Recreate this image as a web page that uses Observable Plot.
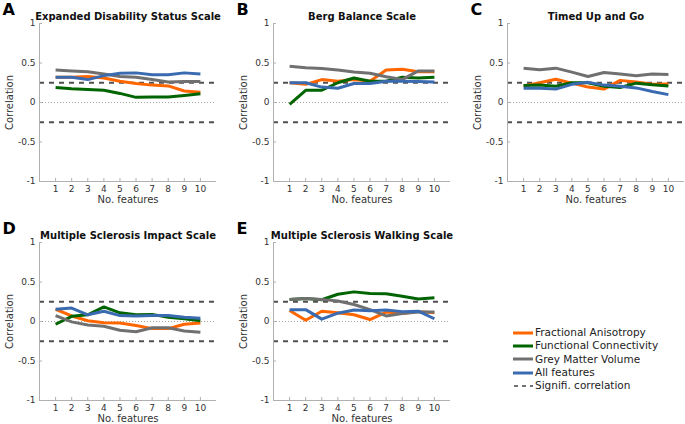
<!DOCTYPE html>
<html>
<head>
<meta charset="utf-8">
<script src="https://cdn.jsdelivr.net/npm/d3@7"></script>
<script src="https://cdn.jsdelivr.net/npm/@observablehq/plot@0.6"></script>
<style>
  html, body { margin: 0; padding: 0; background: #fff; }
  #wrap { position: relative; width: 685px; height: 424px; overflow: hidden; font-family: "DejaVu Sans", sans-serif; }
  .panel { position: absolute; width: 232px; height: 210px; }
  .panel svg { max-width: none !important; display: block; }
  #legend { position: absolute; left: 513px; top: 326px; font-size: 10.5px; color: #222; line-height: 13.3px; }
  #legend .row { display: flex; align-items: center; white-space: nowrap; }
  #legend svg { margin-right: 2px; }
</style>
</head>
<body>
<div id="wrap"></div>
<script>
// ---- data ----
const features = [1, 2, 3, 4, 5, 6, 7, 8, 9, 10];
const seriesNames = ["Fractional Anisotropy", "Functional Connectivity", "Grey Matter Volume", "All features"];
const seriesColors = ["#ff6600", "#006400", "#707070", "#3a6bb0"];
const sigLabel = "Signifi. correlation";
const sigLevel = 0.25;
const yTicks = [-1, -0.5, 0, 0.5, 1];
const yTickLabels = ["-1", "-0.5", "0", "0.5", "1"];
const xLabel = "No. features";
const yLabel = "Correlation";
const panelLetters = ["A", "B", "C", "D", "E"];
const panelTitles = ["Expanded Disability Status Scale", "Berg Balance Scale", "Timed Up and Go",
  "Multiple Sclerosis Impact Scale", "Multiple Sclerosis Walking Scale"];

// A: EDSS
const edssFA  = [0.32, 0.32, 0.33, 0.31, 0.27, 0.24, 0.22, 0.21, 0.145, 0.13];
const edssFC  = [0.19, 0.175, 0.165, 0.155, 0.115, 0.065, 0.07, 0.07, 0.09, 0.11];
const edssGMV = [0.41, 0.40, 0.39, 0.36, 0.33, 0.32, 0.29, 0.26, 0.265, 0.265];
const edssAll = [0.32, 0.32, 0.29, 0.34, 0.37, 0.375, 0.35, 0.35, 0.375, 0.36];
// B: BBS
const bbsFA  = [0.25, 0.23, 0.29, 0.27, 0.29, 0.27, 0.41, 0.42, 0.39, 0.39];
const bbsFC  = [-0.025, 0.155, 0.155, 0.25, 0.31, 0.27, 0.27, 0.32, 0.31, 0.32];
const bbsGMV = [0.46, 0.44, 0.43, 0.41, 0.385, 0.37, 0.325, 0.29, 0.40, 0.40];
const bbsAll = [0.25, 0.25, 0.195, 0.18, 0.24, 0.24, 0.27, 0.27, 0.265, 0.26];
// C: TUG
const tugFA  = [0.21, 0.25, 0.295, 0.245, 0.195, 0.17, 0.28, 0.26, 0.23, 0.235];
const tugFC  = [0.215, 0.22, 0.205, 0.25, 0.25, 0.205, 0.19, 0.245, 0.225, 0.21];
const tugGMV = [0.435, 0.415, 0.435, 0.385, 0.33, 0.38, 0.36, 0.34, 0.36, 0.355];
const tugAll = [0.18, 0.18, 0.17, 0.23, 0.255, 0.22, 0.205, 0.185, 0.14, 0.10];
// D: MSIS
const msisFA  = [0.155, 0.07, 0.01, -0.015, -0.02, -0.05, -0.09, -0.09, -0.035, -0.02];
const msisFC  = [-0.035, 0.065, 0.085, 0.185, 0.11, 0.085, 0.09, 0.055, 0.035, 0.01];
const msisGMV = [0.075, -0.005, -0.045, -0.06, -0.11, -0.13, -0.08, -0.08, -0.12, -0.135];
const msisAll = [0.155, 0.17, 0.085, 0.13, 0.075, 0.07, 0.075, 0.075, 0.055, 0.04];
// E: MSWS
const mswsFA  = [0.14, 0.015, 0.13, 0.11, 0.085, 0.025, 0.12, 0.10, 0.125, 0.11];
const mswsFC  = [0.28, 0.29, 0.275, 0.345, 0.375, 0.355, 0.35, 0.32, 0.285, 0.30];
const mswsGMV = [0.28, 0.29, 0.28, 0.26, 0.215, 0.15, 0.07, 0.10, 0.12, 0.12];
const mswsAll = [0.15, 0.15, 0.03, 0.105, 0.145, 0.135, 0.145, 0.125, 0.13, 0.035];

const panelSeries = [
  [edssFA, edssFC, edssGMV, edssAll],
  [bbsFA, bbsFC, bbsGMV, bbsAll],
  [tugFA, tugFC, tugGMV, tugAll],
  [msisFA, msisFC, msisGMV, msisAll],
  [mswsFA, mswsFC, mswsGMV, mswsAll]
];

// ---- layout ----
const panelPos = [[0, 0], [234, 0], [468, 0], [0, 219], [234, 219]];
const W = 232, H = 210, ML = 39, MR = 16, MT = 23, MB = 29;
const innerW = W - ML - MR, innerH = H - MT - MB;
const axisColor = "#b0b0b0";
const textColor = "#333";

function makePanel(i) {
  const rows = [];
  panelSeries[i].forEach((arr, s) => arr.forEach((v, k) => rows.push({x: features[k], y: v, s: seriesNames[s]})));
  return Plot.plot({
    width: W, height: H, marginLeft: ML, marginRight: MR, marginTop: MT, marginBottom: MB,
    style: {fontFamily: "DejaVu Sans", background: "transparent", overflow: "visible", color: textColor},
    x: {domain: [0, 11], axis: null},
    y: {domain: [-1, 1], axis: null},
    color: {domain: seriesNames, range: seriesColors},
    marks: [
      Plot.ruleY([0], {stroke: "#999", strokeWidth: 0.9, strokeDasharray: "1,2"}),
      Plot.ruleY([-sigLevel, sigLevel], {stroke: "#505050", strokeWidth: 1.8, strokeDasharray: "5,5"}),
      Plot.lineY(rows, {x: "x", y: "y", z: "s", stroke: "s", strokeWidth: 3, strokeLinecap: "butt"}),
      Plot.ruleX([0], {stroke: axisColor}),
      Plot.ruleY([-1], {stroke: axisColor}),
      Plot.tickX(features, {x: d => d, insetTop: innerH - 3, stroke: axisColor}),
      Plot.tickY(yTicks, {y: d => d, insetRight: innerW - 3, stroke: axisColor}),
      Plot.axisX(features, {tickSize: 0, tickPadding: 4, fontSize: 9, fill: textColor, label: null}),
      Plot.axisY(yTicks, {tickSize: 0, tickPadding: 4, fontSize: 9, fill: textColor, label: null,
        tickFormat: d => yTickLabels[yTicks.indexOf(d)]}),
      Plot.text([xLabel], {text: d => d, frameAnchor: "bottom", lineAnchor: "middle", dy: 18.5, fontSize: 10, fill: textColor}),
      Plot.text([yLabel], {text: d => d, frameAnchor: "left", textAnchor: "middle", lineAnchor: "middle", rotate: -90, dx: -30, fontSize: 10, fill: textColor}),
      Plot.text([panelTitles[i]], {text: d => d, frameAnchor: "top", lineAnchor: "middle", dy: -6.5, fontSize: 10, fontWeight: "bold", fill: "#111"}),
      Plot.text([panelLetters[i]], {text: d => d, frameAnchor: "top-left", textAnchor: "start", lineAnchor: "middle", dx: -37, dy: -14, fontSize: 16, fontWeight: "bold", fill: "#000"})
    ]
  });
}

const wrap = document.getElementById("wrap");
panelLetters.forEach((_, i) => {
  const div = document.createElement("div");
  div.className = "panel";
  div.style.left = panelPos[i][0] + "px";
  div.style.top = panelPos[i][1] + "px";
  div.appendChild(makePanel(i));
  wrap.appendChild(div);
});

// legend
const legend = document.createElement("div");
legend.id = "legend";
const entries = seriesNames.map((n, i) => ({name: n, color: seriesColors[i], dash: null, w: 3}))
  .concat([{name: sigLabel, color: "#444", dash: "4,4", w: 1.5}]);
entries.forEach(e => {
  const row = document.createElement("div");
  row.className = "row";
  const svg = d3.create("svg").attr("width", 20).attr("height", 12);
  svg.append("line").attr("x1", e.dash ? 1 : 0).attr("x2", 20).attr("y1", 6).attr("y2", 6)
    .attr("stroke", e.color).attr("stroke-width", e.w).attr("stroke-dasharray", e.dash);
  row.appendChild(svg.node());
  const span = document.createElement("span");
  span.textContent = e.name;
  row.appendChild(span);
  legend.appendChild(row);
});
wrap.appendChild(legend);
</script>
</body>
</html>
